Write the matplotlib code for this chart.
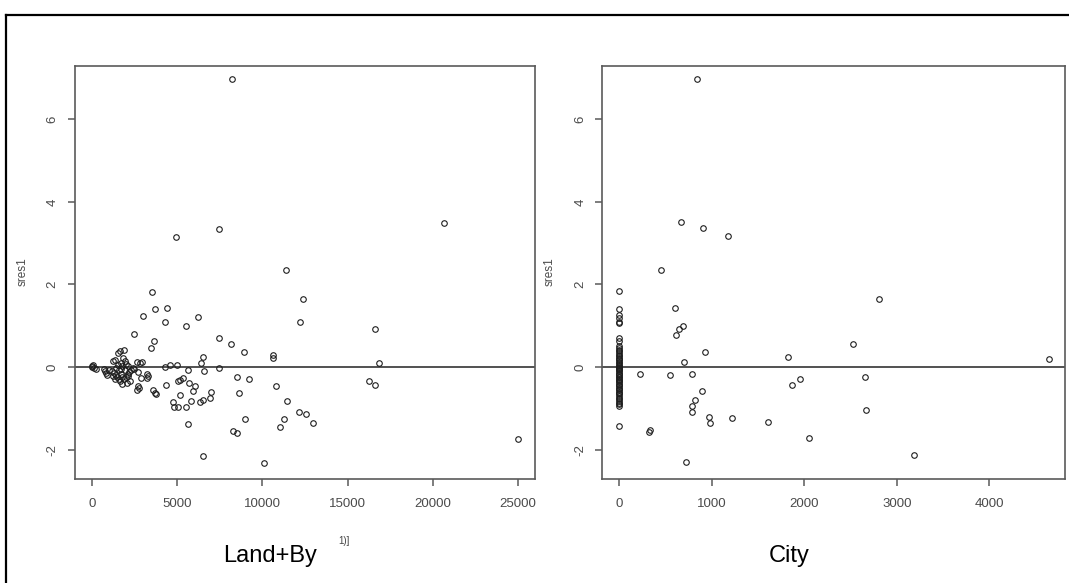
import matplotlib
matplotlib.use("Agg")
import matplotlib.pyplot as plt
from matplotlib.lines import Line2D

plt.rcParams['font.family'] = ['Liberation Sans', 'DejaVu Sans']

# ---------------- data ----------------
landby_x = [8210, 20670, 7440, 4955, 11390, 3520, 12360, 3720, 4410, 2990, 6210, 4310,
            12220, 5540, 16630, 2450, 7480, 3640, 8170, 3480, 8900, 6520, 10600, 10640,
            16870, 6410, 4610, 5000, 4310, 7450, 5620, 6610, 8500, 9250, 16280, 16590,
            10800, 5060, 5200, 5360, 5680, 6070, 5930, 4370, 5200, 7000, 8660, 6940,
            6510, 6330, 5820, 4790, 4830, 5060, 5520, 11450, 12160, 12560, 8960, 11250,
            12950, 5640, 11040, 8270, 8500, 25020, 6510, 10090,
            0, 60, 30, 150, 250, 700, 780, 850, 900, 1000,
            1270, 1370, 1560, 1660, 1900, 1450, 1550, 1700, 1850, 1950, 2100,
            1200, 1300, 1400, 1500, 1600, 1700, 1800, 1900, 2000, 2100, 2200, 2300, 2400,
            1350, 1650, 1750, 2050, 2250, 1950, 1600, 1250, 2150,
            2640, 2830, 2930, 2700, 2880, 2500, 2740, 2800, 2650,
            3230, 3300, 3270, 3610, 3700, 3760, 1800, 2000, 1700]
landby_y = [6.97, 3.50, 3.35, 3.16, 2.35, 1.82, 1.65, 1.40, 1.42, 1.24, 1.20, 1.09,
            1.08, 0.99, 0.91, 0.79, 0.70, 0.63, 0.55, 0.45, 0.37, 0.25, 0.28, 0.22,
            0.09, 0.09, 0.06, 0.04, -0.01, -0.03, -0.08, -0.09, -0.24, -0.30, -0.34, -0.44,
            -0.46, -0.34, -0.32, -0.26, -0.39, -0.46, -0.59, -0.43, -0.68, -0.61, -0.63, -0.75,
            -0.79, -0.84, -0.82, -0.85, -0.98, -0.96, -0.98, -0.82, -1.10, -1.13, -1.25, -1.27,
            -1.35, -1.37, -1.45, -1.56, -1.61, -1.75, -2.16, -2.33,
            0.03, 0.05, -0.01, -0.02, -0.04, -0.05, -0.09, -0.14, -0.19, -0.07,
            0.14, 0.18, 0.33, 0.38, 0.41, -0.02, 0.05, 0.10, 0.22, 0.15, 0.02,
            -0.10, -0.15, -0.20, -0.25, -0.28, -0.18, -0.24, -0.30, -0.25, -0.16, -0.11, -0.06, -0.02,
            -0.30, -0.35, -0.40, -0.38, -0.33, -0.08, -0.08, -0.22, -0.22,
            0.12, 0.10, 0.11, -0.13, -0.27, -0.05, -0.47, -0.52, -0.55,
            -0.16, -0.21, -0.26, -0.56, -0.62, -0.66, 0.03, 0.08, -0.05]

city_x = [835, 660, 906, 1178, 444, 2803, 600, 608, 641, 682, 2520, 924, 1819, 4644,
          697, 224, 541, 787, 2654, 1954, 1868, 895, 820, 779, 787, 2666, 969, 977,
          1215, 1603, 317, 335, 2051, 3180, 715]
city_y = [6.97, 3.51, 3.37, 3.17, 2.36, 1.65, 1.43, 0.78, 0.91, 0.99, 0.55, 0.37, 0.25, 0.20,
          0.11, -0.16, -0.20, -0.18, -0.23, -0.28, -0.43, -0.57, -0.79, -0.94, -1.10, -1.05,
          -1.22, -1.35, -1.24, -1.33, -1.57, -1.53, -1.72, -2.12, -2.30]
city_zero_y = [1.84, 1.41, 1.25, 1.19, 1.10, 1.07, 0.71, 0.63, 0.52, 0.45, 0.41, 0.38,
               0.33, 0.30, 0.27, 0.22, 0.19, 0.16, 0.12, 0.09, 0.06, 0.03, 0.01, -0.02,
               -0.05, -0.07, -0.10, -0.14, -0.16, -0.19, -0.23, -0.25, -0.28, -0.32, -0.34,
               -0.37, -0.41, -0.43, -0.46, -0.50, -0.53, -0.56, -0.60, -0.62, -0.66, -0.71,
               -0.74, -0.78, -0.83, -0.86, -0.90, -0.94, -1.42]

landby_ticks = [0, 5000, 10000, 15000, 20000, 25000]
city_ticks = [0, 1000, 2000, 3000, 4000]
y_ticks = [-2, 0, 2, 4, 6]
panel_titles = ["Land+By", "City"]
y_label = "sres1"

# ---------------- figure ----------------
W, H = 1069, 583
fig = plt.figure(figsize=(W / 100, H / 100), dpi=100)

def px(x, y):
    return x / W, 1 - y / H

AX_COL = "#5a5a5a"
TXT_COL = "#4a4a4a"
MK_COL = "#1e1e1e"
MS = 4.0
MEW = 0.8

def make_panel(rect, xs, ys, xlim, xticks):
    ax = fig.add_axes(rect)
    ax.plot(xs, ys, linestyle="none", marker="o", markersize=MS,
            markerfacecolor="none", markeredgecolor=MK_COL, markeredgewidth=MEW)
    ax.axhline(0, color="#333333", lw=1.2, zorder=0)
    ax.set_xlim(*xlim)
    ax.set_ylim(-2.72, 7.3)
    ax.set_xticks(xticks)
    ax.set_xticklabels([str(t) for t in xticks])
    ax.set_yticks(y_ticks)
    ax.set_yticklabels([str(t) for t in y_ticks], rotation=90, va="center")
    for s in ax.spines.values():
        s.set_color(AX_COL)
        s.set_linewidth(1.2)
    ax.tick_params(length=5.3, width=1.1, color=AX_COL, labelcolor=TXT_COL,
                   labelsize=9.5)
    ax.tick_params(axis="x", pad=8.5)
    ax.tick_params(axis="y", pad=6)
    return ax

left_rect = [74.5 / W, (H - 479.3) / H, (535 - 74.5) / W, (479.3 - 65.7) / H]
right_rect = [602 / W, (H - 479.3) / H, (1064.5 - 602) / W, (479.3 - 65.7) / H]

ax1 = make_panel(left_rect, landby_x, landby_y, (-1010, 25990), landby_ticks)
ax2 = make_panel(right_rect, city_x, city_y, (-189, 4811), city_ticks)
ax2.plot([0] * len(city_zero_y), city_zero_y, linestyle="none", marker="o",
         markersize=MS, markerfacecolor="none", markeredgecolor=MK_COL,
         markeredgewidth=MEW)

# y labels
fig.text(*px(22.5, 272), y_label, rotation=90, ha="center", va="center",
         fontsize=8.5, color=TXT_COL)
fig.text(*px(550, 272), y_label, rotation=90, ha="center", va="center",
         fontsize=8.5, color=TXT_COL)

# leftover fragment of erased axis label
fig.text(*px(344, 541), "1)]", ha="center", va="center", fontsize=7, color="#444444")

# panel captions
fig.text(*px(270, 556), panel_titles[0], ha="center", va="center", fontsize=17, color="black")
fig.text(*px(789, 556), panel_titles[1], ha="center", va="center", fontsize=17, color="black")

# outer frame (top and left visible)
fig.add_artist(Line2D([6 / W, 6 / W], [0, 1 - 14.5 / H], transform=fig.transFigure,
                      color="black", lw=1.6))
fig.add_artist(Line2D([6 / W, 1], [1 - 14.5 / H, 1 - 14.5 / H], transform=fig.transFigure,
                      color="black", lw=1.6))

fig.savefig("out.png", dpi=100)
